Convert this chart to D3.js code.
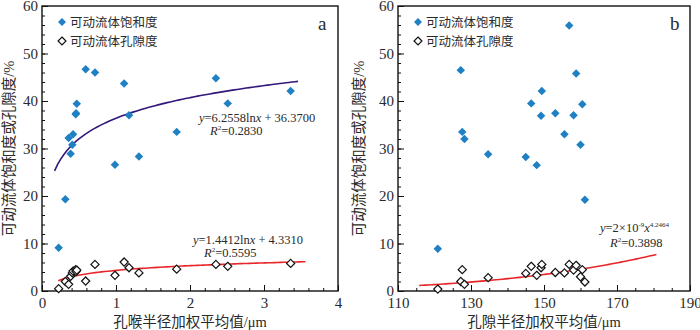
<!DOCTYPE html>
<html lang="zh">
<head>
<meta charset="UTF-8">
<title>可动流体与孔径关系</title>
<script src="https://cdn.jsdelivr.net/npm/d3@7"></script>
<style>
    body { margin: 0; background: #fff; }
    text { font-family: "Liberation Serif", "Noto Sans CJK SC", serif; fill: #2a2a2a; }
    .frame { fill: none; stroke: #111; stroke-width: 1.4px; }
    .axis path { display: none; }
    .axis line { stroke: #111; stroke-width: 1px; }
</style>
</head>
<body>
<svg id="chart" width="700" height="330"></svg>
<script>
// panel a: throat radius weighted mean (μm)
const throatRadius = [0.225, 0.315, 0.36, 0.387, 0.41, 0.42, 0.455, 0.46, 0.47, 0.59, 0.716, 0.986, 1.11, 1.176, 1.31, 1.82, 2.35, 2.51, 3.36];
const throatSat    = [9.1, 19.3, 32.2, 28.9, 30.8, 33.0, 37.2, 37.4, 39.4, 46.7, 46.0, 26.6, 43.7, 37.0, 28.3, 33.5, 44.8, 39.5, 42.1];
const throatPor    = [0.5, 2.0, 1.4, 3.1, 3.8, 4.2, 4.5, 4.1, 4.4, 2.1, 5.6, 3.3, 6.1, 4.9, 3.8, 4.6, 5.6, 5.2, 5.8];

// panel b: pore radius weighted mean (μm)
const poreRadius = [120.9, 127.2, 127.6, 128.2, 134.7, 145.0, 146.5, 148.0, 149.2, 149.4, 153.1, 155.6, 156.9, 158.1, 158.8, 160.0, 160.5, 161.2];
const poreSat    = [8.9, 46.5, 33.5, 32.0, 28.8, 28.2, 39.5, 26.5, 36.9, 42.1, 37.4, 33.0, 55.9, 37.0, 45.8, 30.8, 39.3, 19.2];
const porePor    = [0.4, 2.0, 4.5, 1.4, 2.8, 3.7, 5.2, 3.3, 4.9, 5.6, 3.9, 3.8, 5.6, 4.4, 5.4, 3.0, 4.5, 1.9];

const yTicks = [0, 10, 20, 30, 40, 50, 60];
const throatTicks = [0, 1, 2, 3, 4];
const poreTicks = [110, 130, 150, 170, 190];
const legendLabels = ['可动流体饱和度', '可动流体孔隙度'];

const svg = d3.select('#chart');
const plotTop = 6, plotBottom = 291;

function drawPanel(cfg) {
    const x = d3.scaleLinear().domain(cfg.xDomain).range([cfg.left, cfg.right]);
    const y = d3.scaleLinear().domain([0, 60]).range([plotBottom, plotTop]);
    const g = svg.append('g');

    // minor + major ticks, pointing inward
    g.append('g').attr('class', 'axis').attr('transform', `translate(0,${plotBottom})`)
        .call(d3.axisBottom(x).tickValues(d3.range(cfg.xDomain[0], cfg.xDomain[1] + 1e-9, cfg.xMinor)).tickSize(-3).tickFormat(''));
    g.append('g').attr('class', 'axis').attr('transform', `translate(0,${plotBottom})`)
        .call(d3.axisBottom(x).tickValues(cfg.xTicks).tickSize(-6).tickPadding(6).tickFormat(d3.format('d')))
        .selectAll('text').attr('font-size', 15).attr('dy', '0.7em');
    g.append('g').attr('class', 'axis').attr('transform', `translate(${cfg.left},0)`)
        .call(d3.axisLeft(y).tickValues(d3.range(0, 61, 2)).tickSize(-3).tickFormat(''));
    g.append('g').attr('class', 'axis').attr('transform', `translate(${cfg.left},0)`)
        .call(d3.axisLeft(y).tickValues(yTicks).tickSize(-6).tickPadding(4))
        .selectAll('text').attr('font-size', 15);

    g.append('rect').attr('class', 'frame')
        .attr('x', cfg.left).attr('y', plotTop)
        .attr('width', cfg.right - cfg.left).attr('height', plotBottom - plotTop);

    // fit curves
    const line = d3.line().x(d => x(d[0])).y(d => y(d[1]));
    cfg.fits.forEach(f => {
        const pts = d3.range(f.from, f.to + 1e-9, (f.to - f.from) / 80).map(v => [v, f.fn(v)]);
        g.append('path').attr('d', line(pts)).attr('fill', 'none')
            .attr('stroke', f.color).attr('stroke-width', 1.6);
    });

    const diamond = d3.symbol().type(d3.symbolDiamond2);
    // porosity: hollow diamonds
    g.selectAll('.por').data(cfg.xs).enter().append('path')
        .attr('d', diamond.size(42)())
        .attr('transform', (d, i) => `translate(${x(d)},${y(cfg.por[i])})`)
        .attr('fill', '#fff').attr('stroke', '#111').attr('stroke-width', 1.2);
    // saturation: filled blue diamonds
    g.selectAll('.sat').data(cfg.xs).enter().append('path')
        .attr('d', diamond.size(46)())
        .attr('transform', (d, i) => `translate(${x(d)},${y(cfg.sat[i])})`)
        .attr('fill', '#1f80c4');

    // legend
    const lx = cfg.left + 20;
    [0, 1].forEach(i => {
        const ly = 22 + i * 19;
        g.append('path').attr('d', diamond.size(40)())
            .attr('transform', `translate(${lx},${ly})`)
            .attr('fill', i === 0 ? '#1f80c4' : '#fff')
            .attr('stroke', i === 0 ? 'none' : '#111').attr('stroke-width', 1.2);
        g.append('text').attr('x', lx + 8).attr('y', ly + 4.5)
            .attr('font-size', 12.5).text(legendLabels[i]);
    });

    g.append('text').attr('x', cfg.right - 20).attr('y', 30)
        .attr('font-size', 19).text(cfg.tag);

    // equations
    cfg.eqs.forEach(e => {
        const t = g.append('text').attr('x', e.x).attr('y', e.y).attr('font-size', 12.5);
        e.parts.forEach(p => {
            const s = t.append('tspan').text(p.t);
            if (p.i) s.attr('font-style', 'italic');
            if (p.sup) s.attr('font-size', 7).attr('dy', -5);
            if (p.down) s.attr('dy', 5);
        });
    });

    // axis titles
    g.append('text').attr('x', (cfg.left + cfg.right) / 2).attr('y', 327)
        .attr('text-anchor', 'middle').attr('font-size', 14.5).text(cfg.xTitle);
    g.append('text')
        .attr('transform', `translate(${cfg.left - cfg.titleOffset},${(plotTop + plotBottom) / 2}) rotate(-90)`)
        .attr('text-anchor', 'middle').attr('font-size', 14.5).text('可动流体饱和度或孔隙度/%');
}

drawPanel({
    left: 42, right: 338, xDomain: [0, 4], xTicks: throatTicks, xMinor: 0.2,
    xs: throatRadius, sat: throatSat, por: throatPor, tag: 'a', titleOffset: 28,
    xTitle: '孔喉半径加权平均值/μm',
    fits: [
        { from: 0.17, to: 3.46, color: '#33177a', fn: v => 6.2558 * Math.log(v) + 36.37 },
        { from: 0.22, to: 3.56, color: '#e8262a', fn: v => 1.4412 * Math.log(v) + 4.331 }
    ],
    eqs: [
        { x: 199, y: 122, parts: [{ t: 'y', i: 1 }, { t: '=6.2558ln' }, { t: 'x', i: 1 }, { t: ' + 36.3700' }] },
        { x: 210, y: 135, parts: [{ t: 'R', i: 1 }, { t: '2', sup: 1 }, { t: '=0.2830', down: 1 }] },
        { x: 193, y: 244, parts: [{ t: 'y', i: 1 }, { t: '=1.4412ln' }, { t: 'x', i: 1 }, { t: ' + 4.3310' }] },
        { x: 204, y: 257, parts: [{ t: 'R', i: 1 }, { t: '2', sup: 1 }, { t: '=0.5595', down: 1 }] }
    ]
});

drawPanel({
    left: 398, right: 690, xDomain: [110, 190], xTicks: poreTicks, xMinor: 5,
    xs: poreRadius, sat: poreSat, por: porePor, tag: 'b', titleOffset: 34,
    xTitle: '孔隙半径加权平均值/μm',
    fits: [
        { from: 115.8, to: 180.8, color: '#e8262a', fn: v => 2e-9 * Math.pow(v, 4.2464) }
    ],
    eqs: [
        { x: 600, y: 232, parts: [{ t: 'y', i: 1 }, { t: '=2×10' }, { t: '-9', sup: 1 }, { t: 'x', i: 1, down: 1 }, { t: '4.2464', sup: 1 }] },
        { x: 610, y: 247, parts: [{ t: 'R', i: 1 }, { t: '2', sup: 1 }, { t: '=0.3898', down: 1 }] }
    ]
});
</script>
</body>
</html>
